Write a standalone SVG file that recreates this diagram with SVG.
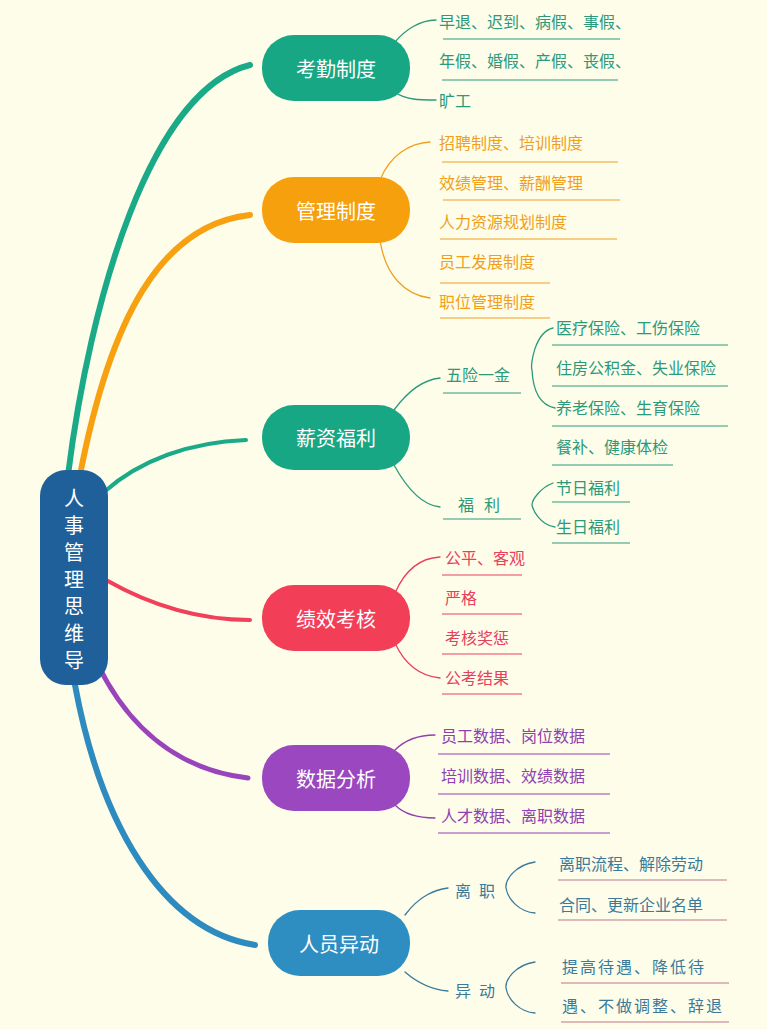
<svg xmlns="http://www.w3.org/2000/svg" width="767" height="1029" viewBox="0 0 767 1029">
<style>
text{font-family:"Noto Sans CJK SC","Noto Sans",sans-serif}
.nt{fill:#fff;font-size:20px;text-anchor:middle;dominant-baseline:central}
.lf{font-size:16px;dominant-baseline:central}
.br{fill:none;stroke-linecap:round}
.tl{fill:#2a9a7a}.tk{stroke:#2a9a7a}
.ol{fill:#f0a020}.ok{stroke:#f0a020}
.rl{fill:#e8405a}.rk{stroke:#e8405a}
.pl{fill:#9040b0}.pk{stroke:#9040b0}
.bl{fill:#3a7a9a}.bk{stroke:#3a7a9a}
.ul{stroke-width:1.2}
</style>
<rect width="767" height="1029" fill="#fefdea"/>
<g id="connectors">
<path class="br" d="M68 475 C 90 300, 150 90, 250 65" stroke="#1aaa88" stroke-width="6"/>
<path class="br" d="M80 475 C 110 320, 160 225, 250 215" stroke="#f7a010" stroke-width="6"/>
<path class="br" d="M104 492 C 140 460, 190 442, 246 440" stroke="#1aaa88" stroke-width="4"/>
<path class="br" d="M106 580 C 150 605, 200 620, 250 620" stroke="#f0405a" stroke-width="4"/>
<path class="br" d="M98 665 C 130 730, 180 770, 248 778" stroke="#9944bb" stroke-width="5"/>
<path class="br" d="M75 685 C 100 820, 160 930, 255 945" stroke="#2e8bbf" stroke-width="6"/>
<g stroke-width="1.3">
<path class="br tk" d="M395 42 C 405 30, 420 20, 436 20"/>
<path class="br tk" d="M395 92 C 405 100, 420 100, 436 100"/>
<path class="br ok" d="M380 180 C 390 155, 410 143, 430 142"/>
<path class="br ok" d="M380 240 C 385 275, 405 295, 430 298"/>
<path class="br tk" d="M394 410 C 405 395, 420 380, 440 378"/>
<path class="br tk" d="M394 465 C 405 485, 420 505, 440 507"/>
<path class="br tk" d="M553 328 C 535 332, 530 365, 532 370 C 533 390, 540 405, 555 408"/>
<path class="br tk" d="M553 483 C 540 488, 532 500, 532 505 C 533 510, 540 525, 555 527"/>
<path class="br rk" d="M395 593 C 405 570, 420 558, 440 557"/>
<path class="br rk" d="M395 643 C 405 665, 420 676, 440 678"/>
<path class="br pk" d="M395 750 C 405 740, 420 735, 435 735"/>
<path class="br pk" d="M395 805 C 405 815, 420 818, 435 818"/>
<path class="br bk" d="M405 915 C 420 895, 435 890, 448 888"/>
<path class="br bk" d="M405 972 C 420 985, 435 990, 448 991"/>
<path class="br bk" d="M535 862 C 515 865, 505 880, 506 888 C 508 900, 520 912, 535 913"/>
<path class="br bk" d="M535 962 C 515 965, 505 980, 506 988 C 508 1000, 520 1012, 535 1013"/>
</g>
</g>
<g id="center"><rect x="40" y="470" width="68" height="215" rx="26" fill="#1f5f9a"/>
<g class="nt"><text x="74" y="497">人</text><text x="74" y="524">事</text><text x="74" y="551">管</text><text x="74" y="578">理</text><text x="74" y="605">思</text><text x="74" y="632">维</text><text x="74" y="659">导</text></g></g>
<g id="n1"><rect x="262" y="35" width="148" height="66" rx="32" fill="#17a784"/><text class="nt" x="336" y="68">考勤制度</text></g>
<g id="n2"><rect x="262" y="177" width="148" height="66" rx="32" fill="#f7a00e"/><text class="nt" x="336" y="210">管理制度</text></g>
<g id="n3"><rect x="262" y="405" width="148" height="65" rx="32" fill="#17a784"/><text class="nt" x="336" y="437">薪资福利</text></g>
<g id="n4"><rect x="262" y="585" width="148" height="66" rx="32" fill="#f23e57"/><text class="nt" x="336" y="618">绩效考核</text></g>
<g id="n5"><rect x="262" y="745" width="148" height="66" rx="32" fill="#9a47c0"/><text class="nt" x="336" y="778">数据分析</text></g>
<g id="n6"><rect x="268" y="910" width="142" height="66" rx="32" fill="#2e8ec2"/><text class="nt" x="339" y="943">人员异动</text></g>
<g id="leaves">
<text class="lf tl" x="439" y="21">早退、迟到、病假、事假、</text><line class="ul tk" x1="443" y1="39" x2="620" y2="39"/>
<text class="lf tl" x="439" y="60">年假、婚假、产假、丧假、</text><line class="ul tk" x1="442" y1="80" x2="618" y2="80"/>
<text class="lf tl" x="439" y="100">旷工</text>
<text class="lf ol" x="439" y="142">招聘制度、培训制度</text><line class="ul ok" x1="442" y1="162" x2="618" y2="162"/>
<text class="lf ol" x="439" y="182">效绩管理、薪酬管理</text><line class="ul ok" x1="443" y1="200" x2="620" y2="200"/>
<text class="lf ol" x="439" y="221">人力资源规划制度</text><line class="ul ok" x1="440" y1="239" x2="617" y2="239"/>
<text class="lf ol" x="439" y="261">员工发展制度</text><line class="ul ok" x1="440" y1="283" x2="550" y2="283"/>
<text class="lf ol" x="439" y="301">职位管理制度</text><line class="ul ok" x1="440" y1="318" x2="550" y2="318"/>
<text class="lf tl" x="446" y="374">五险一金</text><line class="ul tk" x1="443" y1="393" x2="521" y2="393"/>
<text class="lf tl" x="458" y="504" letter-spacing="10">福利</text><line class="ul tk" x1="443" y1="519" x2="521" y2="519"/>
<text class="lf tl" x="556" y="327">医疗保险、工伤保险</text><line class="ul tk" x1="552" y1="345" x2="728" y2="345"/>
<text class="lf tl" x="556" y="367">住房公积金、失业保险</text><line class="ul tk" x1="552" y1="386" x2="728" y2="386"/>
<text class="lf tl" x="556" y="407">养老保险、生育保险</text><line class="ul tk" x1="552" y1="426" x2="728" y2="426"/>
<text class="lf tl" x="556" y="446">餐补、健康体检</text><line class="ul tk" x1="552" y1="465" x2="673" y2="465"/>
<text class="lf tl" x="556" y="487">节日福利</text><line class="ul tk" x1="552" y1="502" x2="630" y2="502"/>
<text class="lf tl" x="556" y="526">生日福利</text><line class="ul tk" x1="552" y1="543" x2="630" y2="543"/>
<text class="lf rl" x="445" y="557">公平、客观</text><line class="ul rk" x1="442" y1="575" x2="522" y2="575"/>
<text class="lf rl" x="445" y="597">严格</text><line class="ul rk" x1="442" y1="614" x2="522" y2="614"/>
<text class="lf rl" x="445" y="637">考核奖惩</text><line class="ul rk" x1="442" y1="654" x2="522" y2="654"/>
<text class="lf rl" x="445" y="677">公考结果</text><line class="ul rk" x1="442" y1="694" x2="522" y2="694"/>
<text class="lf pl" x="441" y="735">员工数据、岗位数据</text><line class="ul pk" x1="438" y1="754" x2="610" y2="754"/>
<text class="lf pl" x="441" y="775">培训数据、效绩数据</text><line class="ul pk" x1="438" y1="794" x2="610" y2="794"/>
<text class="lf pl" x="441" y="815">人才数据、离职数据</text><line class="ul pk" x1="438" y1="833" x2="610" y2="833"/>
<text class="lf bl" x="455" y="890" letter-spacing="8">离职</text>
<text class="lf bl" x="455" y="990" letter-spacing="8">异动</text>
<text class="lf bl" x="559" y="863">离职流程、解除劳动</text><line x1="558" y1="880" x2="727" y2="880" stroke="#d4a0a8" stroke-width="1.5"/>
<text class="lf bl" x="559" y="904">合同、更新企业名单</text><line x1="558" y1="920" x2="727" y2="920" stroke="#d4a0a8" stroke-width="1.5"/>
<text class="lf bl" x="562" y="966" letter-spacing="2">提高待遇、降低待</text><line x1="561" y1="983" x2="729" y2="983" stroke="#d4a0a8" stroke-width="1.5"/>
<text class="lf bl" x="562" y="1005" letter-spacing="2">遇、不做调整、辞退</text><line x1="561" y1="1022" x2="729" y2="1022" stroke="#d4a0a8" stroke-width="1.5"/>
</g>
</svg>
